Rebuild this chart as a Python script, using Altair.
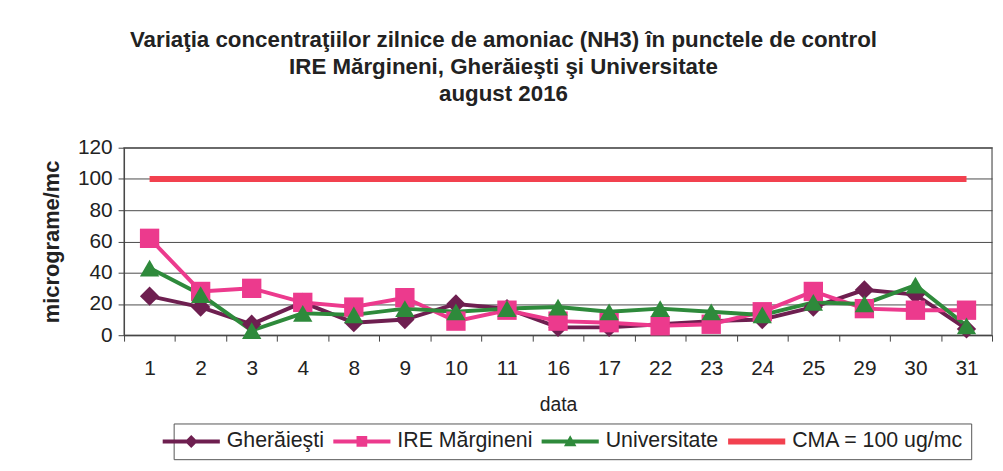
import altair as alt
import pandas as pd

# ---- data ----
dates = ["1", "2", "3", "4", "8", "9", "10", "11", "16", "17", "22", "23", "24", "25", "29", "30", "31"]
gheraiesti = [25, 18, 7, 21, 8, 10, 20, 17, 5, 5, 7, 9, 10, 18, 29, 26, 4]
margineni = [62, 28, 30, 21, 18, 24, 9, 16, 9, 8, 6, 7, 15, 28, 17, 16, 16]
universitate = [43, 26, 3, 14, 13, 17, 15, 17, 18, 15, 17, 15, 13, 21, 20, 32, 6]
cma_values = [100, 100, 100, 100, 100, 100, 100, 100, 100, 100, 100, 100, 100, 100, 100, 100, 100]

series_names = ["Gherăieşti", "IRE Mărgineni", "Universitate"]
cma_name = "CMA = 100 ug/mc"
legend_names = series_names + [cma_name]
y_ticks = [0, 20, 40, 60, 80, 100, 120]
title_lines = [
    "Variaţia concentraţiilor zilnice de amoniac (NH3) în punctele de control",
    "IRE Mărgineni, Gherăieşti şi Universitate",
    "august 2016",
]

# ---- styling ----
FONT = "Liberation Sans"
series_colors = ["#6e1f50", "#ec3a8d", "#2e8a3b"]
cma_color = "#f2414f"
legend_colors = series_colors + [cma_color]
point_shapes = ["diamond", "square", "triangle-up"]
legend_shapes = [
    "M-3.2,-0.22H3.2V0.22H-3.2Z M0,-0.72L0.72,0L0,0.72L-0.72,0Z",
    "M-3.2,-0.22H3.2V0.22H-3.2Z M-0.6,-0.6H0.6V0.6H-0.6Z",
    "M-3.2,-0.22H3.2V0.22H-3.2Z M0,-0.7L0.7,0.55H-0.7Z",
    "M-3.2,-0.34H3.2V0.34H-3.2Z",
]

rows = []
for name, vals in zip(series_names, [gheraiesti, margineni, universitate]):
    for d, v in zip(dates, vals):
        rows.append({"data": d, "value": v, "series": name})
df = pd.DataFrame(rows)
cma_df = pd.DataFrame({"data": dates, "value": cma_values})
legend_df = pd.DataFrame({"series": legend_names})

x_enc = alt.X(
    "data:N",
    sort=dates,
    title="data",
    bandPosition=0.5,
    scale=alt.Scale(type="band", paddingInner=0, paddingOuter=0),
    axis=alt.Axis(
        labelAngle=0, labelFont=FONT, labelFontSize=21, labelColor="#222",
        labelPadding=17, tickSize=6, tickColor="#444", domainColor="#444",
        tickBand="extent", grid=False,
        titleFont=FONT, titleFontSize=19.5, titleFontWeight="normal", titleColor="#222",
        titlePadding=17,
    ),
)
y_enc = alt.Y(
    "value:Q",
    title="micrograme/mc",
    scale=alt.Scale(domain=[0, 120], nice=False),
    axis=alt.Axis(
        values=y_ticks, labelFont=FONT, labelFontSize=21, labelColor="#222",
        labelPadding=6, tickSize=6, tickColor="#444", domainColor="#444",
        grid=True, gridColor="#4a4a4a", gridWidth=1,
        titleFont=FONT, titleFontSize=22, titleFontWeight="bold", titleColor="#222",
        titlePadding=14,
    ),
)

cma_layer = alt.Chart(cma_df).mark_line(color=cma_color, strokeWidth=6).encode(x=x_enc, y=y_enc)

color_series = alt.Color(
    "series:N", legend=None,
    scale=alt.Scale(domain=series_names, range=series_colors),
)
lines = alt.Chart(df).mark_line(strokeWidth=4).encode(x=x_enc, y=y_enc, color=color_series)
points = alt.Chart(df).mark_point(filled=True, opacity=1, size=380).encode(
    x=x_enc, y=y_enc, color=color_series,
    shape=alt.Shape("series:N", legend=None,
                    scale=alt.Scale(domain=series_names, range=point_shapes)),
)

legend_opts = dict(orient="none", legendX=50, legendY=278, direction="horizontal", columns=4)
legend_layer = alt.Chart(legend_df).transform_filter("false").mark_point(
    filled=True, opacity=1, size=324
).encode(
    color=alt.Color("series:N", title=None,
                    scale=alt.Scale(domain=legend_names, range=legend_colors),
                    legend=alt.Legend(**legend_opts)),
    shape=alt.Shape("series:N", title=None,
                    scale=alt.Scale(domain=legend_names, range=legend_shapes),
                    legend=alt.Legend(**legend_opts)),
)

chart = alt.layer(cma_layer, lines, points, legend_layer).resolve_scale(
    color="independent", shape="independent"
).properties(
    width=875,
    height=189,
    autosize=alt.AutoSizeParams(type="none"),
    padding={"left": 117, "top": 139, "right": 3, "bottom": 127},
    title=alt.TitleParams(
        text=title_lines, font=FONT, fontSize=22.5, fontWeight="bold", color="#222",
        lineHeight=27, anchor="middle", dx=-55, offset=32,
    ),
).configure_view(
    fill="#e1f4f7", stroke="#777", strokeWidth=1.5
).configure_legend(
    labelFont=FONT, labelFontSize=21.5, labelColor="#222", symbolSize=324,
    labelOffset=25, columnPadding=8, strokeColor="#555", padding=7,
    symbolStrokeWidth=0, labelLimit=300,
)

chart.save("out.html", embed_options={"renderer": "svg", "actions": False})
